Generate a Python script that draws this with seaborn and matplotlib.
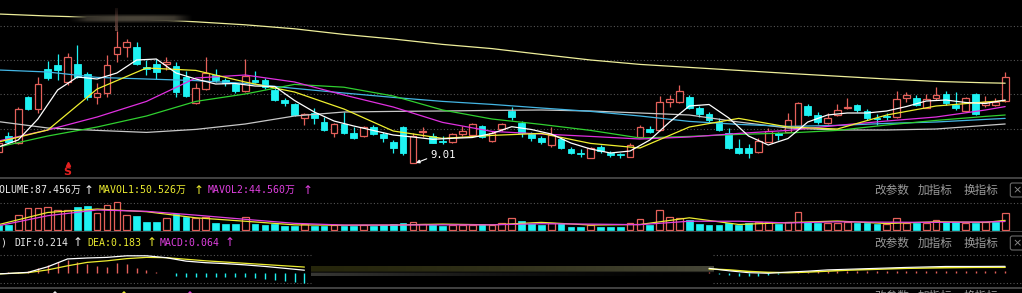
import numpy as np
import matplotlib
matplotlib.use("Agg")
import matplotlib.pyplot as plt
import seaborn as sns

# ---------------- data ----------------
opens = [9.56, 10.36, 10.01, 12.31, 11.71, 13.71, 13.91, 13.06, 13.96, 13.46,
         12.31, 12.51, 14.46, 14.81, 14.81, 13.81, 13.96, 13.96, 13.86, 13.31,
         12.01, 12.71, 13.41, 13.16, 12.96, 12.61, 13.16, 13.16, 12.66, 12.16,
         11.96, 11.26, 11.51, 11.06, 10.51, 10.96, 10.51, 10.36, 10.81, 10.46,
         10.06, 10.81, 9.01, 10.54, 10.36, 10.09, 10.06, 10.46, 10.41, 10.86,
         10.11, 10.71, 11.61, 11.01, 10.46, 10.26, 9.91, 10.21, 9.71, 9.49,
         9.26, 9.81, 9.51, 9.44, 9.31, 10.31, 10.71, 10.66, 12.06, 12.06,
         12.31, 11.76, 11.46, 11.06, 10.51, 9.76, 9.76, 9.56, 10.06, 10.51,
         10.56, 10.86, 11.86, 11.41, 11.01, 11.41, 11.76, 11.91, 11.61, 11.24,
         11.34, 11.31, 12.26, 12.26, 11.76, 12.26, 12.46, 11.91, 11.61, 12.46,
         11.91, 11.91, 12.11]
highs = [10.11, 10.56, 11.81, 12.36, 13.31, 14.11, 14.46, 14.51, 14.91, 13.56,
         13.01, 14.41, 15.61, 15.21, 15.06, 14.16, 14.21, 14.31, 14.06, 13.61,
         13.01, 14.31, 13.71, 13.26, 13.01, 14.21, 13.61, 13.26, 12.76, 12.26,
         12.01, 11.51, 11.76, 11.31, 11.01, 11.56, 10.81, 10.86, 10.91, 10.56,
         10.16, 10.86, 10.51, 10.81, 10.51, 10.36, 10.51, 10.86, 11.01, 10.91,
         10.61, 11.01, 11.81, 11.11, 10.56, 10.36, 10.81, 10.31, 9.81, 9.71,
         9.79, 9.91, 9.61, 9.51, 10.01, 10.91, 10.86, 12.36, 12.41, 12.91,
         12.41, 11.86, 11.56, 11.26, 10.76, 10.21, 9.96, 10.26, 10.76, 10.56,
         11.51, 12.06, 11.96, 11.56, 11.51, 11.96, 12.26, 11.96, 11.71, 11.46,
         11.51, 12.61, 12.56, 12.41, 12.46, 12.81, 12.61, 12.56, 12.31, 12.51,
         12.36, 12.26, 13.56]
lows = [9.46, 10.01, 9.96, 11.66, 11.51, 13.16, 13.16, 12.91, 13.26, 12.16,
        11.96, 12.31, 14.06, 14.31, 13.91, 13.41, 13.21, 13.66, 12.31, 12.31,
        11.96, 12.66, 13.06, 12.86, 12.51, 12.56, 13.01, 12.71, 12.11, 11.86,
        11.36, 10.91, 10.96, 10.61, 10.31, 10.46, 10.21, 10.31, 10.41, 10.06,
        9.51, 9.41, 9.01, 10.31, 9.99, 9.96, 10.01, 10.36, 10.36, 10.26,
        10.06, 10.61, 11.16, 10.31, 10.11, 9.96, 9.81, 9.71, 9.46, 9.31,
        9.24, 9.51, 9.31, 9.26, 9.29, 10.29, 10.51, 10.61, 11.81, 12.01,
        11.71, 11.31, 11.06, 10.61, 9.71, 9.46, 9.26, 9.51, 10.04, 10.16,
        10.54, 10.84, 11.36, 10.96, 10.96, 11.36, 11.71, 11.56, 11.16, 10.91,
        11.16, 11.26, 12.06, 11.86, 11.74, 12.16, 11.91, 11.66, 11.56, 11.41,
        11.81, 11.86, 12.06]
closes = [10.01, 10.06, 11.71, 11.71, 12.96, 13.26, 13.66, 14.31, 13.31, 12.31,
          12.51, 13.91, 14.81, 15.06, 13.96, 13.71, 13.56, 14.06, 12.56, 12.36,
          12.76, 13.51, 13.16, 13.01, 12.61, 13.36, 13.06, 12.81, 12.16, 12.01,
          11.41, 11.46, 11.26, 10.66, 10.96, 10.51, 10.26, 10.81, 10.46, 10.26,
          9.76, 9.51, 10.36, 10.59, 10.01, 10.04, 10.46, 10.61, 10.96, 10.31,
          10.51, 10.96, 11.31, 10.51, 10.26, 10.06, 10.41, 9.76, 9.51, 9.44,
          9.76, 9.61, 9.41, 9.39, 9.91, 10.81, 10.56, 12.06, 12.21, 12.61,
          11.76, 11.46, 11.16, 10.66, 9.76, 9.51, 9.51, 10.11, 10.61, 10.41,
          11.16, 12.01, 11.41, 11.06, 11.26, 11.66, 11.81, 11.66, 11.26, 11.19,
          11.29, 12.21, 12.41, 11.91, 12.21, 12.41, 12.01, 11.76, 12.26, 11.46,
          12.06, 12.06, 13.31]

ma5_idx = list(range(0, 103, 2))
ma5 = [9.81, 10.16, 11.21, 12.66, 13.31, 13.21, 13.51, 14.16, 14.21, 13.51,
       13.21, 12.96, 12.985, 12.86, 12.835, 12.135, 11.56, 11.11, 10.86, 10.635,
       10.41, 10.31, 10.195, 10.245, 10.285, 10.485, 10.825, 10.685, 10.46, 10.01,
       9.71, 9.51, 9.61, 10.16, 11.06, 11.86, 11.935, 11.26, 10.36, 9.91,
       10.235, 11.06, 11.41, 11.51, 11.51, 11.61, 11.835, 12.11, 12.16, 12.035,
       11.985, 12.16]

ma_idx = list(range(0, 101, 5)) + [102]
ma10 = [10.06, 10.66, 12.71, 13.76, 13.64, 13.06, 12.56, 11.71, 10.61, 10.24, 10.39,
        10.49, 9.99, 9.76, 10.81, 11.24, 10.81, 10.71, 11.41, 11.86, 12.06, 12.13]
ma20 = [10.11, 10.66, 11.31, 12.09, 13.26, 13.41, 13.06, 12.41, 11.81, 11.04, 10.59,
        10.46, 10.34, 10.21, 10.31, 10.49, 10.64, 10.89, 11.11, 11.31, 11.66, 11.83]
ma30 = [9.81, 10.36, 10.81, 11.36, 12.09, 12.46, 12.94, 12.80, 12.36, 11.66, 11.21,
        10.94, 10.64, 10.26, 10.34, 10.44, 10.51, 10.64, 10.91, 11.14, 11.34, 11.41]
ma60 = [13.66, 13.56, 13.29, 13.21, 13.13, 12.99, 12.74, 12.51, 12.29, 12.09, 11.94,
        11.76, 11.59, 11.36, 11.09, 10.94, 10.84, 10.89, 10.99, 11.06, 11.19, 11.24]
ma120 = [11.08, 10.76, 10.64, 10.54, 10.69, 10.96, 11.36, 11.56, 11.59, 11.61, 11.64,
         11.66, 11.61, 11.51, 11.41, 11.06, 10.76, 10.66, 10.66, 10.71, 10.89, 10.96]
ma250 = [16.46, 16.36, 16.29, 16.19, 16.07, 15.92, 15.72, 15.44, 15.21, 14.94, 14.73,
         14.44, 14.16, 13.94, 13.79, 13.64, 13.49, 13.35, 13.21, 13.09, 13.02, 13.00]
grid_levels = [15.86, 14.16, 12.46, 10.735]

volumes = [26.2, 26.2, 78.7, 113.7, 113.7, 122.4, 104.9, 104.9, 122.4, 127.7,
           87.5, 131.2, 148.7, 78.7, 75.2, 43.7, 43.7, 61.2, 82.2, 70.0,
           61.2, 70.0, 35.0, 29.7, 29.7, 70.0, 29.7, 26.2, 29.7, 22.7,
           22.7, 29.7, 22.7, 22.7, 26.2, 22.7, 22.7, 26.2, 22.7, 26.2,
           29.7, 35.0, 43.7, 29.7, 26.2, 22.7, 26.2, 26.2, 26.2, 29.7,
           26.2, 35.0, 61.2, 47.2, 29.7, 26.2, 35.0, 35.0, 17.5, 17.5,
           26.2, 17.5, 17.5, 17.5, 35.0, 57.7, 26.2, 104.9, 70.0, 64.7,
           52.5, 29.7, 26.2, 26.2, 35.0, 26.2, 35.0, 43.7, 43.7, 29.7,
           43.7, 92.7, 43.7, 35.0, 35.0, 35.0, 40.2, 35.0, 35.0, 29.7,
           29.7, 61.2, 35.0, 35.0, 35.0, 52.5, 43.7, 40.2, 35.0, 35.0,
           43.7, 40.2, 87.456]
vol_dir = ("CCRRRRRRCC" "RRRRCCCRCC" "RRCCCRCCCC" "CRCCRCCRCC" "CCRRCCRRRC"
           "RRRCCCRCCC" "RCCCRRCRRR" "CCCCCCCRRC" "RRCCRRRCCC" "RRRCRRCCRC" "RCR")
mavol1 = [28, 92, 110, 96, 64, 46, 27, 25, 26, 31, 27,
          40, 26, 29, 64, 29, 39, 47, 34, 43, 40, 50.526]
mavol2 = [22, 75, 105, 98, 78, 56, 35, 26, 26, 27, 27,
          33, 31, 28, 46, 46, 37, 43, 41, 40, 42, 44.560]

macd_left_idx = [0, 3, 5, 7, 9, 11, 13, 15, 17, 19, 21, 23, 25, 27, 29, 31]
dif_left = [-0.03, 0.02, 0.20, 0.45, 0.48, 0.50, 0.55, 0.55, 0.49, 0.38, 0.33,
            0.30, 0.26, 0.21, 0.15, 0.09]
dea_left = [-0.03, 0.01, 0.10, 0.23, 0.34, 0.39, 0.46, 0.50, 0.49, 0.44, 0.39,
            0.35, 0.31, 0.27, 0.23, 0.19]
hist_left = [0.01, 0.02, 0.03, 0.064, 0.15, 0.256, 0.36, 0.416, 0.36, 0.277,
             0.235, 0.2, 0.31, 0.277, 0.17, 0.096, 0.043, 0.01, -0.096, -0.117,
             -0.117, -0.117, -0.117, -0.117, -0.12, -0.139, -0.15, -0.18, -0.21, -0.25,
             -0.29, -0.32]
macd_right_idx = [72, 74, 76, 78, 80, 82, 84, 86, 89, 92, 96, 99, 102]
dif_right = [0.15, 0.07, 0.01, -0.01, 0.03, 0.06, 0.10, 0.12, 0.15, 0.18, 0.21, 0.21, 0.214]
dea_right = [0.13, 0.10, 0.05, 0.02, 0.01, 0.03, 0.06, 0.09, 0.12, 0.15, 0.17, 0.18, 0.183]
hist_right = [0.04, -0.03, -0.06, -0.08, -0.10, -0.08, -0.06, -0.04, -0.01, 0.02,
              0.04, 0.05, 0.06, 0.07, 0.07, 0.07, 0.07, 0.06, 0.06, 0.07,
              0.07, 0.06, 0.06, 0.06, 0.05, 0.05, 0.05, 0.05, 0.06, 0.06, 0.064]
macd_last = 0.064

# ---------------- style ----------------
sns.set_theme(style="dark", rc={"axes.facecolor": "black", "figure.facecolor": "black"})
plt.rcParams['font.family'] = ['DejaVu Sans Mono', 'Noto Sans CJK SC']

RED = '#e4605a'
CYAN = '#1ef2f2'
WHITE = '#ececec'
YELLOW = '#ecec30'
MAGENTA = '#e040e0'
GRIDC = '#555555'
SEPC = '#4a4a4a'
DOT = (0, (1, 2))

W, H = 1022, 293
fig = plt.figure(figsize=(W / 100, H / 100), dpi=100)
fig.patch.set_facecolor('black')


def px2idx(px):
    return (px + 1.57) / 9.87


XL = (px2idx(0), px2idx(W))


def frame(ax):
    ax.set_facecolor('black')
    ax.set_xticks([])
    ax.set_yticks([])
    ax.set_xlabel('')
    ax.set_ylabel('')
    ax.grid(False)
    for s in ax.spines.values():
        s.set_visible(False)


ax_p = fig.add_axes([0, 115 / H, 1, 178 / H])
ax_v = fig.add_axes([0, 61.5 / H, 1, 53.5 / H])
ax_m = fig.add_axes([0, 5 / H, 1, 56.5 / H])

# ---------------- price panel ----------------
o = np.array(opens); c = np.array(closes); h = np.array(highs); l = np.array(lows)
idx = np.arange(len(c))
up = c >= o

for gl in grid_levels:
    ax_p.axhline(gl, color=GRIDC, lw=0.8, ls=DOT, zorder=0)

ax_p.vlines(idx, l, h, colors=np.where(up, RED, CYAN), linewidth=0.9, zorder=2)
body_bot = np.minimum(o, c)
body_h = np.maximum(np.abs(c - o), 0.03)
ax_p.bar(idx[up], body_h[up], bottom=body_bot[up], width=0.68, facecolor='black',
         edgecolor=RED, linewidth=0.9, zorder=3)
ax_p.bar(idx[~up], body_h[~up], bottom=body_bot[~up], width=0.68, facecolor=CYAN,
         edgecolor=CYAN, linewidth=0.6, zorder=3)

for xs, ys, col in [(ma_idx, ma250, '#eeee9a'), (ma_idx, ma120, '#c8c8c8'),
                    (ma_idx, ma60, '#44b6e4'), (ma_idx, ma30, '#30d030'),
                    (ma_idx, ma20, '#e030e0'), (ma_idx, ma10, '#f0f030'),
                    (ma5_idx, ma5, '#ffffff')]:
    sns.lineplot(x=xs, y=ys, ax=ax_p, color=col, linewidth=0.9, zorder=4, legend=False)

# soft greyish rendering artefact covering the top line
nbx = 160
tx = np.linspace(0, 1, nbx)
ty = np.linspace(-1, 1, 10)
bright = 0.14 + 0.12 * np.sin(np.pi * tx) + 0.05 * tx
band = np.zeros((10, nbx, 4))
band[..., 0] = bright[None, :]
band[..., 1] = bright[None, :] * 0.93
band[..., 2] = bright[None, :] * 0.78
ax_alpha_x = np.clip(np.sin(np.pi * tx) * 2.2, 0, 1)
ax_alpha_y = np.clip(np.exp(-(ty / 0.75) ** 2) * 1.5, 0, 1)
band[..., 3] = np.outer(ax_alpha_y, ax_alpha_x)
ax_p.imshow(band, extent=[px2idx(68), px2idx(192), 16.02, 16.45], aspect='auto',
            origin='lower', zorder=5)
vl = np.zeros((30, 1, 4))
vt = np.linspace(0, 1, 30)[:, None]
vl[..., 0], vl[..., 1], vl[..., 2] = 0.42, 0.28, 0.25
vl[..., 3] = 0.2 + 0.7 * (1 - vt)
ax_p.imshow(vl, extent=[11.85, 12.15, 15.6, 16.72], aspect='auto', origin='lower', zorder=5)

low_val = min(lows)
ax_p.annotate(f"{low_val:.2f}", xy=(px2idx(416), low_val), xytext=(px2idx(430), 9.41),
              color='white', fontsize=7.6, ha='left', va='center',
              arrowprops=dict(arrowstyle='-|>', color='white', lw=0.8, mutation_scale=5,
                              shrinkA=0, shrinkB=0, relpos=(0, 0.25)), zorder=6)
ax_p.text(7, 8.55, 'S', color='#e42020', fontsize=8, fontweight='bold', ha='center',
          va='center', family='DejaVu Sans', zorder=6)
ax_p.plot([7], [8.97], marker='^', color='#e42020', ms=3, zorder=6)

frame(ax_p)
ax_p.set_xlim(*XL)
ax_p.set_ylim(8.26, 17.16)

# ---------------- volume panel ----------------
v = np.array(volumes)
vup = np.array([ch == 'R' for ch in vol_dir])
ax_v.axhline(140, color=GRIDC, lw=0.8, ls=DOT, zorder=0)
ax_v.bar(idx[vup], v[vup], width=0.68, facecolor='black', edgecolor=RED, linewidth=0.9, zorder=2)
ax_v.bar(idx[~vup], v[~vup], width=0.68, facecolor=CYAN, edgecolor=CYAN, linewidth=0.5, zorder=2)
sns.lineplot(x=ma_idx, y=mavol1, ax=ax_v, color=YELLOW, linewidth=0.9, zorder=3, legend=False)
sns.lineplot(x=ma_idx, y=mavol2, ax=ax_v, color=MAGENTA, linewidth=0.9, zorder=3, legend=False)
frame(ax_v)
ax_v.spines['top'].set_visible(True)
ax_v.spines['top'].set_color(SEPC)
ax_v.spines['bottom'].set_visible(True)
ax_v.spines['bottom'].set_color(SEPC)
ax_v.set_xlim(*XL)
ax_v.set_ylim(-7.87, 272.8)

FS = 7.1


def header(ax, yfrac, pieces):
    for px, txt, col in pieces:
        if txt == '↑':
            ax.text(px / W, yfrac, txt, transform=ax.transAxes, color=col, fontsize=8.6,
                    family=['DejaVu Sans'], ha='left', va='center', clip_on=False, zorder=8)
        else:
            ax.text(px / W, yfrac, txt, transform=ax.transAxes, color=col, fontsize=FS,
                    ha='left', va='center', clip_on=False, zorder=8)


def tools(ax, yfrac):
    for px, txt in [(874, '改参数'), (918, '加指标'), (964, '换指标')]:
        ax.text(px / W, yfrac, txt, transform=ax.transAxes, color='#9a9a9a', fontsize=8.4,
                family=['Noto Sans CJK SC'], ha='left', va='center', clip_on=False, zorder=8)
    ax.text(1017 / W, yfrac, '×', transform=ax.transAxes, color='#8a8a8a', fontsize=8,
            family=['DejaVu Sans'], ha='center', va='center', clip_on=False, zorder=8,
            bbox=dict(boxstyle='round,pad=0.18', fc='none', ec='#6a6a6a', lw=0.8))


header(ax_v, 0.7757, [(-6, f"VOLUME:{volumes[-1]:.3f}万", WHITE), (84, '↑', WHITE),
                      (99, f"MAVOL1:{mavol1[-1]:.3f}万", YELLOW), (194, '↑', YELLOW),
                      (208, f"MAVOL2:{mavol2[-1]:.3f}万", MAGENTA), (303, '↑', MAGENTA)])
tools(ax_v, 0.7757)

# ---------------- MACD panel ----------------
ax_m.hlines([0.576, -0.33], XL[0], px2idx(311), color=GRIDC, lw=0.8, ls=DOT, zorder=0)
ax_m.hlines([0.576, -0.33], px2idx(713), XL[1], color=GRIDC, lw=0.8, ls=DOT, zorder=0)

# faded stripe where the indicator was not drawn
ngx = 240
gx = np.linspace(0, 1, ngx)
g = np.zeros((9, ngx, 3))
olive = 0.15 + 0.13 * gx ** 1.5
grey = 0.22 * (1 - gx) ** 1.6
for r in range(9):
    if r < 3:      # lower grey stripe
        g[r, :, 0] = grey
        g[r, :, 1] = grey
        g[r, :, 2] = grey * 0.95
    elif r < 4:
        g[r, :, :] = 0.03
    else:          # upper olive stripe
        g[r, :, 0] = olive
        g[r, :, 1] = olive
        g[r, :, 2] = olive * (0.3 + 0.5 * gx)
ax_m.imshow(g, extent=[px2idx(311), px2idx(713), -0.10, 0.19], aspect='auto',
            origin='lower', zorder=1)

hl = np.array(hist_left)
il = np.arange(len(hl))
ax_m.vlines(il, 0, hl, colors=np.where(hl >= 0, RED, CYAN), lw=1.0, zorder=2)
hr = np.array(hist_right)
ir = np.arange(72, 72 + len(hr))
ax_m.vlines(ir, 0, hr, colors=np.where(hr >= 0, RED, CYAN), lw=1.0, zorder=2)

sns.lineplot(x=macd_left_idx, y=dea_left, ax=ax_m, color=YELLOW, linewidth=0.9, zorder=3, legend=False)
sns.lineplot(x=macd_left_idx, y=dif_left, ax=ax_m, color='#ffffff', linewidth=0.9, zorder=4, legend=False)
sns.lineplot(x=macd_right_idx, y=dea_right, ax=ax_m, color=YELLOW, linewidth=1.1, zorder=3, legend=False)
sns.lineplot(x=macd_right_idx, y=dif_right, ax=ax_m, color='#ffffff', linewidth=0.8, zorder=4, legend=False)

frame(ax_m)
ax_m.spines['bottom'].set_visible(True)
ax_m.spines['bottom'].set_color(SEPC)
ax_m.set_xlim(*XL)
ax_m.set_ylim(-0.48, 1.328)

header(ax_m, 0.7965, [(0, ')', WHITE), (14, f"DIF:{dif_right[-1]:.3f}", WHITE), (73, '↑', WHITE),
                      (87, f"DEA:{dea_right[-1]:.3f}", YELLOW), (147, '↑', YELLOW),
                      (160, f"MACD:{macd_last:.3f}", MAGENTA), (225, '↑', MAGENTA)])
tools(ax_m, 0.7965)

# next panel header, mostly cut off at the bottom edge
yb = (H - 296.5) / H
for px, txt in [(874, '改参数'), (918, '加指标'), (964, '换指标')]:
    fig.text(px / W, yb, txt, color='#9a9a9a', fontsize=8.4, family=['Noto Sans CJK SC'],
             ha='left', va='center')
for px, col in [(50, WHITE), (119, YELLOW), (185, MAGENTA)]:
    fig.text(px / W, (H - 296) / H, '↑', color=col, fontsize=8.6, family=['DejaVu Sans'],
             ha='left', va='center')

fig.savefig('out.png', dpi=100, facecolor='black')
